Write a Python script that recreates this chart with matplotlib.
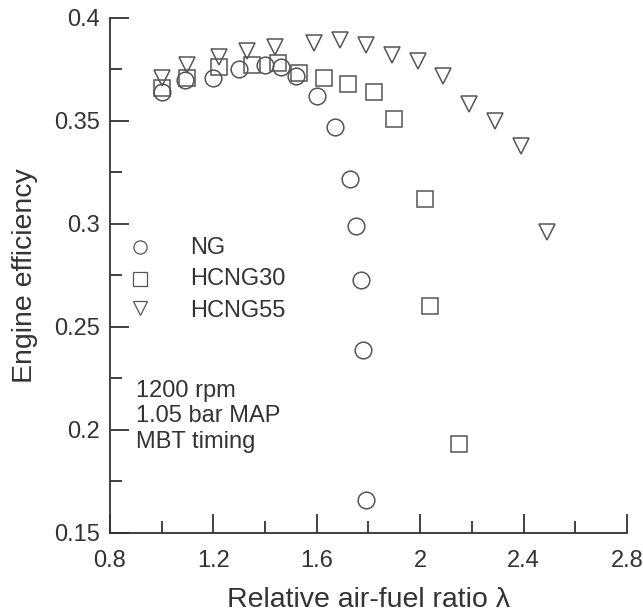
import numpy as np
import matplotlib.pyplot as plt
from matplotlib.ticker import MultipleLocator

plt.rcParams['font.family'] = ['Liberation Sans', 'DejaVu Sans']

# Engine efficiency vs relative air-fuel ratio at 1200 rpm
ng_lambda = [1.00, 1.09, 1.20, 1.30, 1.40, 1.46, 1.52, 1.60, 1.67, 1.73, 1.75, 1.77, 1.78, 1.79]
ng_eff = [0.364, 0.370, 0.371, 0.375, 0.377, 0.376, 0.372, 0.362, 0.347, 0.322, 0.299, 0.273, 0.239, 0.166]

hcng30_lambda = [1.00, 1.10, 1.22, 1.35, 1.45, 1.53, 1.63, 1.72, 1.82, 1.90, 2.02, 2.04, 2.15]
hcng30_eff = [0.366, 0.371, 0.376, 0.377, 0.378, 0.373, 0.371, 0.368, 0.364, 0.351, 0.312, 0.260, 0.193]

hcng55_lambda = [1.00, 1.10, 1.22, 1.33, 1.44, 1.59, 1.69, 1.79, 1.89, 1.99, 2.09, 2.19, 2.29, 2.39, 2.49]
hcng55_eff = [0.371, 0.377, 0.381, 0.384, 0.386, 0.388, 0.389, 0.387, 0.382, 0.379, 0.372, 0.358, 0.350, 0.338, 0.296]

x_ticks = [0.8, 1.2, 1.6, 2.0, 2.4, 2.8]
x_ticklabels = ['0.8', '1.2', '1.6', '2', '2.4', '2.8']
y_ticks = [0.15, 0.2, 0.25, 0.3, 0.35, 0.4]
y_ticklabels = ['0.15', '0.2', '0.25', '0.3', '0.35', '0.4']

fig = plt.figure(figsize=(6.43, 6.14), dpi=100)
ax = fig.add_axes([0.171, 0.132, 0.804, 0.839])

mk = dict(linestyle='none', markerfacecolor='none', markeredgecolor='#555555',
          markeredgewidth=1.1, markersize=12)
ax.plot(ng_lambda, ng_eff, marker='o', **mk)
ax.plot(hcng30_lambda, hcng30_eff, marker='s', **mk)
ax.plot(hcng55_lambda, hcng55_eff, marker='v', **mk)

ax.set_xlim(0.8, 2.8)
ax.set_ylim(0.15, 0.4)
ax.set_xticks(x_ticks)
ax.set_xticklabels(x_ticklabels)
ax.set_yticks(y_ticks)
ax.set_yticklabels(y_ticklabels)
ax.xaxis.set_minor_locator(MultipleLocator(0.2))
ax.yaxis.set_minor_locator(MultipleLocator(0.025))

for s in ['top', 'right']:
    ax.spines[s].set_visible(False)
for s in ['left', 'bottom']:
    ax.spines[s].set_linewidth(1.3)
    ax.spines[s].set_color('#333333')
ax.tick_params(which='major', direction='in', length=13.5, width=1.3, color='#333333',
               labelsize=17, labelcolor='#333333')
ax.tick_params(axis='x', which='major', pad=12)
ax.tick_params(axis='y', which='major', pad=7)
ax.tick_params(which='minor', direction='in', length=8.5, width=1.3, color='#333333')

ax.set_xlabel('Relative air-fuel ratio λ', fontsize=20.5, color='#333333', labelpad=11)
ax.set_ylabel('Engine efficiency', fontsize=20.5, color='#333333', labelpad=12)

# legend drawn by hand: small markers with labels
leg_mark_y = [0.289, 0.2733, 0.259]
leg_text_y = [0.2853, 0.2704, 0.255]
leg_marks = ['o', 's', 'v']
leg_names = ['NG', 'HCNG30', 'HCNG55']
for my, ty, m, name in zip(leg_mark_y, leg_text_y, leg_marks, leg_names):
    ax.plot([0.916], [my], marker=m, linestyle='none', markerfacecolor='none',
            markeredgecolor='#555555', markeredgewidth=0.9, markersize=9.5)
    ax.text(1.109, ty, name, fontsize=17, color='#333333', va='baseline')

notes = ['1200 rpm', '1.05 bar MAP', 'MBT timing']
for i, t in enumerate(notes):
    ax.text(0.9, 0.2162 - i * 0.0125, t, fontsize=17, color='#333333', va='baseline')

fig.savefig('out.png', dpi=100)
